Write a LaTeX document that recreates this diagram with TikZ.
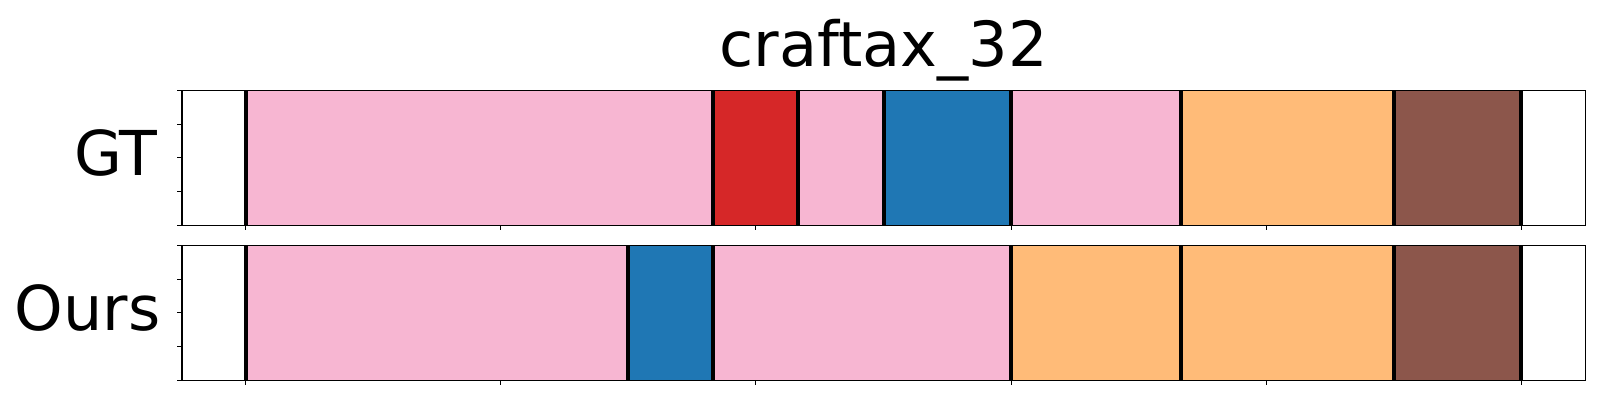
\documentclass[tikz,border=0pt]{standalone}
\usepackage{fontspec}
\setmainfont{DejaVu Sans}
\definecolor{tabpink}{HTML}{F7B6D2}
\definecolor{tabred}{HTML}{D62728}
\definecolor{tabblue}{HTML}{1F77B4}
\definecolor{taborange}{HTML}{FFBB78}
\definecolor{tabbrown}{HTML}{8C564B}
\begin{document}
\begin{tikzpicture}
        \tikzstyle{cut}=[line width=0.4mm, black]
        \tikzstyle{frame}=[line width=0.12mm, black]
        \tikzstyle{tick}=[line width=0.1mm, black]
        \tikzstyle{rowlabel}=[font=\fontsize{17.6}{21}\selectfont, anchor=base east, inner sep=0pt]
        \useasboundingbox (0,0) rectangle (16,4);
        \node [font=\fontsize{17.7}{21}\selectfont, anchor=base, inner sep=0pt] (title) at (8.837,3.333) {craftax\_32};
        \node [rowlabel] (gt) at (1.583,2.25) {GT};
        \node [rowlabel] (ours) at (1.61,0.70) {Ours};
        \begin{scope}[xshift=2.457cm, x=0.4252cm]
            % GT row
            \foreach \a/\b/\c in {0/11/tabpink, 11/13/tabred, 13/15/tabpink, 15/18/tabblue, 18/22/tabpink, 22/27/taborange, 27/30/tabbrown}
                \fill[\c] (\a,1.747) rectangle (\b,3.097);
            \foreach \t in {0,11,13,15,18,22,27,30}
                \draw[cut] (\t,1.747) -- (\t,3.097);
            \draw[frame] (-1.5,1.747) rectangle (31.5,3.097);
            \foreach \t in {0,6,...,30}
                \draw[tick] (\t,1.747) -- ++(0,-0.5mm);
            \foreach \k in {0,...,4}
                \draw[tick] (-1.5,1.747+\k*0.3375) -- ++(-0.5mm,0);
            % Ours row
            \foreach \a/\b/\c in {0/9/tabpink, 9/11/tabblue, 11/18/tabpink, 18/22/taborange, 22/27/taborange, 27/30/tabbrown}
                \fill[\c] (\a,0.197) rectangle (\b,1.547);
            \foreach \t in {0,9,11,18,22,27,30}
                \draw[cut] (\t,0.197) -- (\t,1.547);
            \draw[frame] (-1.5,0.197) rectangle (31.5,1.547);
            \foreach \t in {0,6,...,30}
                \draw[tick] (\t,0.197) -- ++(0,-0.5mm);
            \foreach \k in {0,...,4}
                \draw[tick] (-1.5,0.197+\k*0.3375) -- ++(-0.5mm,0);
        \end{scope}
\end{tikzpicture}
\end{document}
